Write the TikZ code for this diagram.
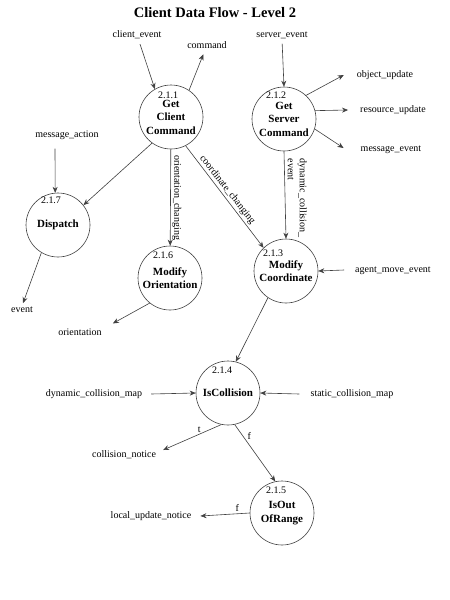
\documentclass[tikz,border=0pt]{standalone}
\usepackage{fontspec}
\setmainfont{Liberation Serif}
\usetikzlibrary{arrows.meta,calc}
\begin{document}
\begin{tikzpicture}[x=1pt,y=-1pt,
  proc/.style={circle,draw=black!75,line width=0.6pt,minimum size=64pt,inner sep=0pt,align=center,font=\fontsize{11}{13.5}\selectfont\bfseries},
  num/.style={font=\fontsize{10}{12}\selectfont,inner sep=0pt},
  lab/.style={font=\fontsize{10}{12}\selectfont,inner sep=1pt},
  flow/.style={draw=black!75,line width=0.6pt,-{Stealth[length=6pt,width=5pt]}},
  elab/.style={font=\fontsize{10}{12}\selectfont,inner sep=1.5pt}]
\useasboundingbox (0,0) rectangle (450,600);
\fill[white] (0,0) rectangle (450,600);

% title
\node[font=\fontsize{14.5}{16}\selectfont\bfseries] (title) at (215,13) {Client Data Flow - Level 2};

% processes
\node[proc] (A) at (171,117) {Get\\Client\\Command};
\node[proc] (B) at (284,119) {Get\\Server\\Command};
\node[proc] (C) at (286,271) {Modify\\Coordinate};
\node[proc] (D) at (228,393) {IsCollision};
\node[proc] (E) at (282,513) {IsOut\\OfRange};
\node[proc] (F) at (170,278) {Modify\\Orientation};
\node[proc] (G) at (58,225) {Dispatch};

% numbers
\node[num] (nA) at ($(A)+(-3,-22)$) {2.1.1};
\node[num] (nB) at ($(B)+(-8,-24)$) {2.1.2};
\node[num] (nC) at ($(C)+(-13,-18)$) {2.1.3};
\node[num] (nD) at ($(D)+(-6,-23)$) {2.1.4};
\node[num] (nE) at ($(E)+(-6,-23)$) {2.1.5};
\node[num] (nF) at ($(F)+(-7,-23)$) {2.1.6};
\node[num] (nG) at ($(G)+(-7,-25)$) {2.1.7};

% external labels
\node[lab] (ce)  at (137,35)  {client\_event};
\node[lab] (cmd) at (207,45)  {command};
\node[lab] (se)  at (282,35)  {server\_event};
\node[lab] (ou)  at (385,75)  {object\_update};
\node[lab] (ru)  at (393,110) {resource\_update};
\node[lab] (me)  at (391,150) {message\_event};
\node[lab] (ma)  at (67,135)  {message\_action};
\node[lab] (ev)  at (22,310)  {event};
\node[lab] (ori) at (80,332)  {orientation};
\node[lab] (ame) at (393,271) {agent\_move\_event};
\node[lab] (dcm) at (94,394)  {dynamic\_collision\_map};
\node[lab] (scm) at (352,394) {static\_collision\_map};
\node[lab] (cn)  at (124,455) {collision\_notice};
\node[lab] (lun) at (151,516) {local\_update\_notice};

% flows
\draw[flow,shorten <=4pt] (ce) -- (A.120);
\draw[flow,shorten >=5pt] (A.56) -- (cmd);
\draw[flow,shorten <=4pt] (se.south) -- (B.north);
\draw[flow] (B.47) -- ($(ou.west)+(-12,0)$);
\draw[flow] (B.15) -- ($(ru.west)+(-11,0)$);
\draw[flow] (B.-18) -- ($(me.west)+(-16,-2)$);
\draw[flow] ($(ma.south)+(-12,8)$) -- (G.95);
\draw[flow] (A.234) -- (G.38);
\draw[flow,shorten >=3pt] (G.239) -- (ev.north);
\draw[flow] (A) -- node[midway,rotate=-90,anchor=south,elab] {orientation\_changing} (F);
\draw[flow] (A.-63) -- node[pos=0.47,rotate=-52,anchor=south,elab] {coordinate\_changing} (C.134);
\draw[flow] (B.south) -- node[pos=0.04,rotate=-90,anchor=south west,elab,inner sep=3.5pt,align=left] {dynamic\_collision\_\\event} (C.north);
\draw[flow] (F.231) -- ($(ori.north east)+(10,-4)$);
\draw[flow] ($(ame.west)+(-10,-1)$) -- (C.east);
\draw[flow] (C.236) -- (D.76);
\draw[flow] ($(dcm.east)+(8,0)$) -- (D.west);
\draw[flow] ($(scm.west)+(-10,0)$) -- (D.east);
\draw[flow] (D.258) -- node[pos=0.38,above,elab] {t} ($(cn.east)+(6,-5)$);
\draw[flow] (D.282) -- node[pos=0.2,right,elab,xshift=3pt] {f} (E.102);
\draw[flow] (E.west) -- node[pos=0.25,above,elab] {f} ($(lun.east)+(8,0)$);
\end{tikzpicture}
\end{document}
